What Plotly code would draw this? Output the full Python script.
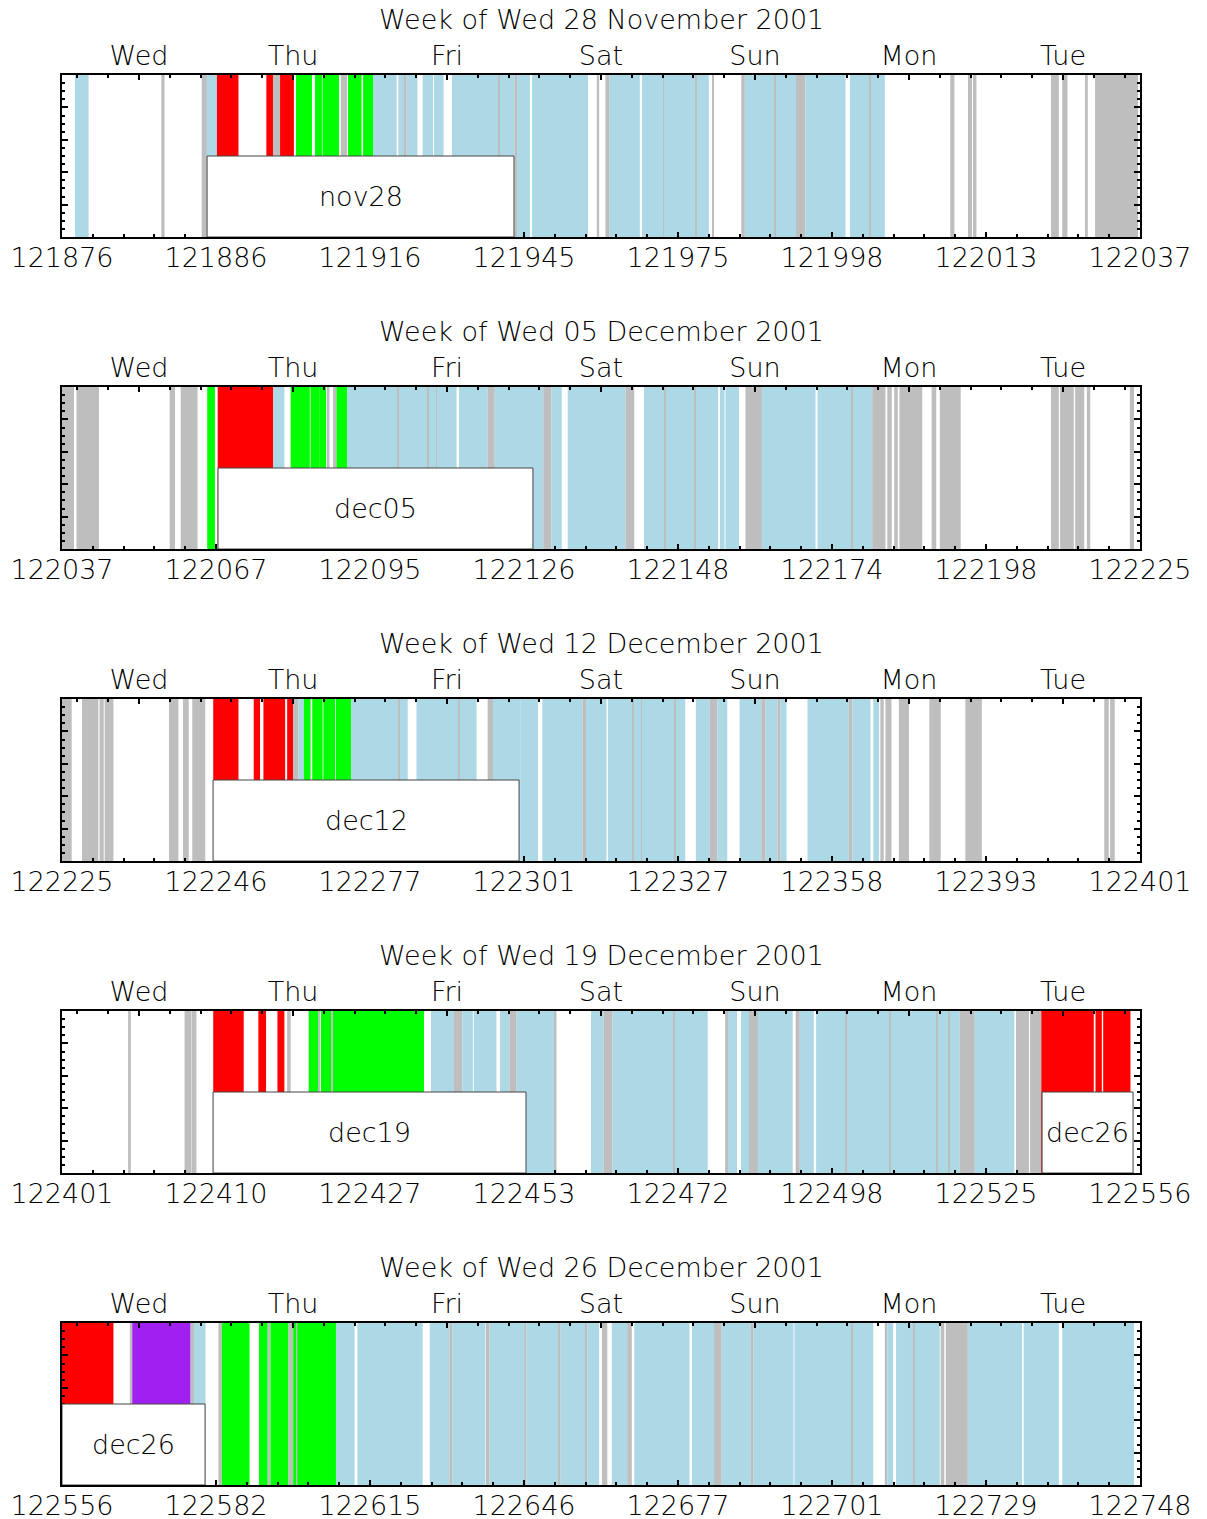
import plotly.graph_objects as go

# ---------------- data ----------------
day_names = ["Wed", "Thu", "Fri", "Sat", "Sun", "Mon", "Tue"]

titles = [
    "Week of Wed 28 November 2001",
    "Week of Wed 05 December 2001",
    "Week of Wed 12 December 2001",
    "Week of Wed 19 December 2001",
    "Week of Wed 26 December 2001",
]

orbits_1 = ["121876", "121886", "121916", "121945", "121975", "121998", "122013", "122037"]
orbits_2 = ["122037", "122067", "122095", "122126", "122148", "122174", "122198", "122225"]
orbits_3 = ["122225", "122246", "122277", "122301", "122327", "122358", "122393", "122401"]
orbits_4 = ["122401", "122410", "122427", "122453", "122472", "122498", "122525", "122556"]
orbits_5 = ["122556", "122582", "122615", "122646", "122677", "122701", "122729", "122748"]

# band kinds: b = light blue, g = grey, r = red, n = green, p = purple
# times are in days since start of week (Wed 00:00)
p1_start = [0.084, 0.645, 0.907, 0.941, 1.006, 1.327, 1.370, 1.416, 1.519, 1.643, 1.692, 1.810, 1.857, 1.955,
            2.022, 2.184, 2.227, 2.238, 2.342, 2.416, 2.532, 2.938, 2.955, 3.052, 3.473, 3.529, 3.556, 3.766,
            4.223, 4.411, 4.434, 4.766, 4.827, 5.116, 5.768, 5.883, 5.916, 6.422, 6.495, 6.643, 6.708,
            2.835, 3.903, 4.113, 4.629, 5.244]
p1_end = [0.173, 0.666, 0.941, 1.006, 1.146, 1.370, 1.416, 1.506, 1.623, 1.688, 1.799, 1.851, 1.945, 2.022,
          2.173, 2.227, 2.238, 2.308, 2.409, 2.478, 2.938, 2.955, 3.039, 3.416, 3.488, 3.556, 3.752, 4.200,
          4.234, 4.434, 4.766, 4.827, 5.088, 5.343, 5.795, 5.909, 5.938, 6.473, 6.529, 6.661, 6.987,
          2.841, 3.909, 4.119, 4.635, 5.250]
p1_kind = ["b", "g", "g", "b", "r", "r", "g", "r", "n", "n", "n", "g", "n", "n",
           "b", "b", "g", "b", "b", "b", "b", "g", "b", "b", "g", "g", "b", "b",
           "g", "g", "b", "g", "b", "b", "g", "g", "g", "g", "g", "g", "g",
           "g", "g", "g", "g", "g"]

p2_start = [0.000, 0.094, 0.699, 0.771, 0.943, 1.011, 1.372, 1.485, 1.614, 1.670, 1.727, 1.760, 1.782, 1.851,
            2.578, 2.764, 2.810, 3.125, 3.177, 3.284, 3.659, 3.779, 4.273, 4.308, 4.438, 4.545, 4.906,
            5.261, 5.359, 5.404, 5.438, 5.647, 5.700, 6.422, 6.481, 6.579, 6.655, 6.934,
            2.181, 2.371, 2.429, 3.913, 4.106, 5.124]
p2_end = [0.078, 0.240, 0.734, 0.880, 0.993, 1.372, 1.444, 1.609, 1.670, 1.715, 1.737, 1.782, 1.851, 2.562,
          2.764, 2.810, 3.125, 3.177, 3.245, 3.659, 3.716, 4.261, 4.302, 4.396, 4.545, 4.893, 5.261,
          5.347, 5.388, 5.427, 5.586, 5.677, 5.836, 6.473, 6.570, 6.638, 6.677, 6.961,
          2.187, 2.377, 2.435, 3.919, 4.112, 5.130]
p2_kind = ["g", "g", "g", "g", "n", "r", "b", "n", "n", "n", "g", "g", "n", "b",
           "b", "g", "b", "g", "b", "b", "g", "b", "b", "b", "g", "b", "b",
           "g", "g", "g", "g", "g", "g", "g", "g", "g", "g", "g",
           "g", "g", "g", "g", "g", "g"]

p3_start = [0.000, 0.130, 0.244, 0.277, 0.695, 0.786, 0.846, 0.982, 1.245, 1.308, 1.462, 1.501, 1.534, 1.571,
            1.625, 1.697, 1.779, 1.877, 2.302, 2.573, 2.584, 2.764, 2.799, 2.979, 3.119, 3.381, 3.403, 3.545,
            3.984, 4.116, 4.206, 4.256, 4.400, 4.541, 4.568, 4.647, 4.666, 4.841, 5.109, 5.132, 5.268, 5.314,
            5.347, 5.434, 5.632, 5.649, 5.866, 6.768, 6.806,
            2.186, 3.702, 3.760, 3.978]
p3_end = [0.063, 0.236, 0.271, 0.334, 0.756, 0.823, 0.930, 1.146, 1.286, 1.449, 1.501, 1.534, 1.571, 1.614,
          1.692, 1.774, 1.877, 2.245, 2.573, 2.584, 2.692, 2.799, 2.979, 3.091, 3.381, 3.403, 3.536, 3.984,
          4.047, 4.206, 4.256, 4.320, 4.541, 4.568, 4.647, 4.666, 4.705, 5.109, 5.132, 5.250, 5.306, 5.336,
          5.386, 5.500, 5.649, 5.706, 5.973, 6.797, 6.836,
          2.192, 3.708, 3.766, 3.984]
p3_kind = ["g", "g", "g", "g", "g", "g", "g", "r", "r", "r", "r", "g", "b", "n",
           "n", "n", "n", "b", "b", "g", "b", "g", "b", "b", "b", "g", "b", "b",
           "b", "b", "g", "b", "b", "g", "b", "g", "b", "b", "g", "b", "b", "g",
           "g", "g", "g", "g", "g", "g", "g",
           "g", "g", "g", "g"]

p4_start = [0.429, 0.796, 0.842, 0.982, 1.275, 1.399, 1.462, 1.602, 1.663, 1.681, 1.749, 1.760, 2.396, 2.545,
            2.600, 2.674, 2.844, 2.906, 2.952, 3.200, 3.435, 3.518, 3.575, 4.306, 4.325, 4.409, 4.461, 4.519,
            4.764, 4.791, 4.897, 5.829, 5.927, 6.195, 6.286, 6.359, 6.711, 6.761,
            3.970, 5.088, 5.374, 5.681, 5.757]
p4_end = [0.447, 0.840, 0.873, 1.180, 1.325, 1.444, 1.485, 1.663, 1.669, 1.749, 1.760, 2.351, 2.545, 2.600,
          2.668, 2.821, 2.906, 2.952, 3.200, 3.211, 3.518, 3.575, 4.193, 4.325, 4.383, 4.461, 4.519, 4.745,
          4.791, 4.882, 5.829, 5.927, 6.184, 6.279, 6.359, 6.700, 6.752, 6.938,
          3.976, 5.094, 5.380, 5.687, 5.763]
p4_kind = ["g", "g", "g", "r", "r", "r", "g", "n", "g", "n", "g", "n", "b", "g",
           "b", "b", "b", "g", "b", "g", "b", "g", "b", "g", "b", "b", "g", "b",
           "g", "b", "b", "g", "b", "g", "g", "r", "r", "r",
           "g", "g", "g", "g", "g"]

p5_start = [0.000, 0.440, 0.456, 0.835, 0.857, 1.016, 1.038, 1.279, 1.336, 1.354, 1.471, 1.501, 1.523, 1.528,
            1.779, 1.918, 2.388, 2.516, 2.534, 2.753, 2.776, 3.001, 3.015, 3.227, 3.238, 3.396, 3.412, 3.506,
            3.570, 3.670, 3.716, 4.091, 4.234, 4.284, 4.473, 4.491, 4.756, 5.343, 5.359, 5.416, 5.706, 5.739,
            5.882, 6.245, 6.495,
            0.076, 5.129, 5.531]
p5_end = [0.334, 0.456, 0.835, 0.857, 0.932, 1.038, 1.218, 1.336, 1.354, 1.471, 1.501, 1.523, 1.528, 1.779,
          1.900, 2.342, 2.516, 2.534, 2.749, 2.776, 3.001, 3.015, 3.227, 3.238, 3.396, 3.412, 3.488, 3.541,
          3.670, 3.700, 4.075, 4.234, 4.284, 4.473, 4.491, 4.750, 5.268, 5.359, 5.397, 5.700, 5.729, 5.882,
          6.234, 6.473, 6.961,
          0.082, 5.135, 5.537]
p5_kind = ["r", "g", "p", "g", "b", "g", "n", "n", "g", "n", "g", "n", "g", "n",
           "b", "b", "b", "g", "b", "g", "b", "g", "b", "g", "b", "g", "b", "g",
           "b", "g", "b", "b", "g", "b", "g", "b", "b", "g", "b", "b", "g", "g",
           "b", "b", "b",
           "r", "g", "g"]

# labelled boxes: (panel, start day, end day, label)
box_panel = [1, 2, 3, 4, 4, 5]
box_start = [0.942, 1.013, 0.981, 0.981, 6.364, 0.000]
box_end = [2.935, 3.058, 2.968, 3.013, 6.955, 0.929]
box_label = ["nov28", "dec05", "dec12", "dec19", "dec26", "dec26"]

# ---------------- styling ----------------
kind_color = {"b": "#ADD8E6", "g": "#BEBEBE", "r": "#FF0000", "n": "#00FF00", "p": "#A020F0"}
FONT = dict(family="DejaVu Sans", size=27, color="#000000", weight=200)

# page has an 8px body margin, so the figure is slightly smaller than the window
W, H = 1199, 1511
ML, MR, MT, MB = 54, 67, 67, 34
plot_h = H - MT - MB
panel_h = 162
panel_step = 312

panels = [
    (p1_start, p1_end, p1_kind, orbits_1),
    (p2_start, p2_end, p2_kind, orbits_2),
    (p3_start, p3_end, p3_kind, orbits_3),
    (p4_start, p4_end, p4_kind, orbits_4),
    (p5_start, p5_end, p5_kind, orbits_5),
]

fig = go.Figure()
layout = dict(
    width=W, height=H,
    margin=dict(l=ML, r=MR, t=MT, b=MB, autoexpand=False),
    paper_bgcolor="white", plot_bgcolor="white",
    barmode="overlay", showlegend=False,
    font=FONT,
    shapes=[], annotations=[],
)

for k, (st, en, kd, orb) in enumerate(panels):
    i = k + 1
    top_px = MT + panel_step * k
    bot_px = top_px + panel_h
    dom = [(H - MB - bot_px) / plot_h, (H - MB - top_px) / plot_h]
    xa = "x" if i == 1 else f"x{i}"
    ya = "y" if i == 1 else f"y{i}"
    top_i = i + 5

    centers = [(a + b) / 2 for a, b in zip(st, en)]
    widths = [b - a for a, b in zip(st, en)]
    fig.add_trace(go.Bar(
        x=centers, y=[1] * len(centers), width=widths, base=0,
        marker=dict(color=[kind_color[c] for c in kd], line=dict(width=0)),
        xaxis=xa, yaxis=ya, hoverinfo="skip",
    ))

    layout[f"xaxis{i}"] = dict(
        domain=[0, 1], anchor=ya, range=[0, 7], automargin=False,
        tickmode="array", tickvals=list(range(8)), ticktext=orb,
        ticks="inside", ticklen=5, tickwidth=1.5, tickcolor="black",
        minor=dict(tickmode="linear", tick0=0, dtick=0.2, ticks="inside", ticklen=3, tickcolor="black"),
        showline=True, linecolor="black", linewidth=2, mirror=False,
        showgrid=False, zeroline=False, tickfont=FONT,
        ticklabelstandoff=-4,
    )
    layout[f"xaxis{top_i}"] = dict(
        overlaying=xa, anchor=ya, side="top", range=[0, 7], automargin=False,
        tickmode="array", tickvals=[d + 0.5 for d in range(7)], ticktext=day_names,
        ticks="inside", ticklen=5, tickwidth=1.5, tickcolor="black",
        minor=dict(tickmode="linear", tick0=0.1, dtick=0.2, ticks="inside", ticklen=3, tickcolor="black"),
        showline=True, linecolor="black", linewidth=2,
        showgrid=False, zeroline=False, tickfont=FONT,
        ticklabelstandoff=-3,
    )
    layout[f"yaxis{i}"] = dict(
        domain=dom, anchor=xa, range=[0, 1], automargin=False,
        tickmode="linear", tick0=0, dtick=0.2, showticklabels=False,
        ticks="inside", ticklen=6, tickwidth=1.5, tickcolor="black",
        minor=dict(tickmode="linear", tick0=0, dtick=0.05, ticks="inside", ticklen=3, tickcolor="black"),
        showline=True, linecolor="black", linewidth=2, mirror="ticks",
        showgrid=False, zeroline=False,
    )
    # invisible trace so the top axis is drawn
    fig.add_trace(go.Scatter(x=[0, 7], y=[0, 0], mode="lines", line=dict(width=0),
                             xaxis=f"x{top_i}", yaxis=ya, hoverinfo="skip", showlegend=False))

    layout["annotations"].append(dict(
        text=titles[k], xref=f"{xa} domain", yref=f"{ya} domain",
        x=0.5, y=1 + 38 / panel_h, xanchor="center", yanchor="bottom",
        showarrow=False, font=FONT,
    ))

for p, a, b, lab in zip(box_panel, box_start, box_end, box_label):
    xa = "x" if p == 1 else f"x{p}"
    ya = "y" if p == 1 else f"y{p}"
    layout["shapes"].append(dict(
        type="rect", xref=xa, yref=ya, x0=a, x1=b, y0=0, y1=0.5,
        fillcolor="white", line=dict(color="#444444", width=1), layer="above",
    ))
    layout["annotations"].append(dict(
        text=lab, xref=xa, yref=ya, x=(a + b) / 2, y=0.25,
        xanchor="center", yanchor="middle", showarrow=False, font=FONT,
    ))

fig.update_layout(**layout)
fig.write_html("out.html")
